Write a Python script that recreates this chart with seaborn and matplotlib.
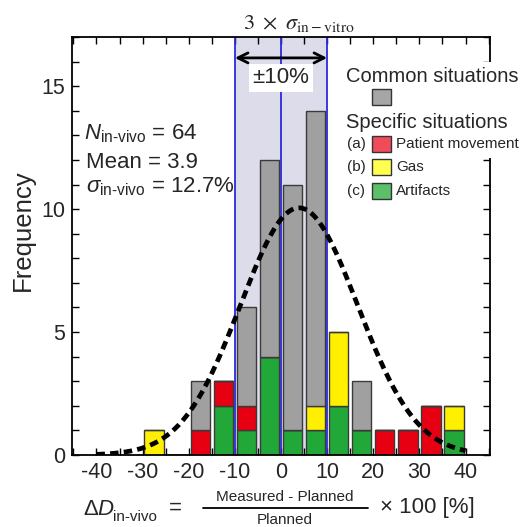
import numpy as np
import pandas as pd
import matplotlib
matplotlib.use("Agg")
import matplotlib.pyplot as plt
import seaborn as sns
from matplotlib.patches import Rectangle
from matplotlib.lines import Line2D
from matplotlib.ticker import MultipleLocator

# ---------------- data ----------------
bin_centers = [-27.5, -22.5, -17.5, -12.5, -7.5, -2.5, 2.5, 7.5, 12.5, 17.5, 22.5, 27.5, 32.5, 37.5]
artifacts = [0, 0, 0, 2, 1, 4, 1, 1, 2, 1, 0, 0, 0, 1]
patient_movement = [0, 0, 1, 1, 1, 0, 0, 0, 0, 0, 1, 1, 2, 0]
gas = [1, 0, 0, 0, 0, 0, 0, 1, 3, 0, 0, 0, 0, 1]
common = [0, 0, 2, 0, 4, 8, 10, 12, 0, 2, 0, 0, 0, 0]
bin_edges = list(range(-30, 45, 5))
n_invivo = 64
mean_invivo = 3.9
sd_invivo = 12.7
x_ticks = [-40, -30, -20, -10, 0, 10, 20, 30, 40]
y_ticks = [0, 5, 10, 15]

records = []
for name, vals in [("Common", common), ("Gas", gas),
                   ("Patient movement", patient_movement), ("Artifacts", artifacts)]:
    for c, v in zip(bin_centers, vals):
        records.append({"x": c, "count": v, "cat": name})
df = pd.DataFrame(records)

palette = {"Common": "#a0a0a0", "Gas": "#fff000",
           "Patient movement": "#e60012", "Artifacts": "#22a839"}

# ---------------- style ----------------
sns.set_style("ticks")
plt.rcParams["font.family"] = ["Liberation Sans", "DejaVu Sans"]
plt.rcParams["axes.unicode_minus"] = False
plt.rcParams["mathtext.fontset"] = "custom"
plt.rcParams["mathtext.rm"] = "Liberation Sans"
plt.rcParams["mathtext.it"] = "Liberation Sans:italic"
plt.rcParams["mathtext.bf"] = "Liberation Sans:bold"

W, H = 523, 527
fig = plt.figure(figsize=(W / 100, H / 100), dpi=100)
ax = fig.add_axes([72 / W, 1 - 455 / H, (490 - 72) / W, (455 - 37) / H])

def px(x, y):
    return (x / W, 1 - y / H)

# shaded +-10% band
ax.axvspan(-10, 10, color="#dcdcea", zorder=0.3, lw=0)
for xv in (-10, 0, 10):
    ax.axvline(xv, color="#2a2ae0", lw=1.3, zorder=0.6)

sns.histplot(data=df, x="x", weights="count", hue="cat",
             hue_order=["Common", "Gas", "Patient movement", "Artifacts"],
             palette=palette, multiple="stack", bins=bin_edges, shrink=0.84,
             edgecolor="#3a3a3a", linewidth=1.0, alpha=1, legend=False, ax=ax,
             zorder=1)

# Gaussian fit
xs = np.linspace(-40, 40, 400)
ys = n_invivo * 5 / (sd_invivo * np.sqrt(2 * np.pi)) * np.exp(-0.5 * ((xs - mean_invivo) / sd_invivo) ** 2)
ax.plot(xs, ys, color="black", lw=3.4, linestyle=(0, (1.8, 1.1)), zorder=5)

# arrow and +-10%
ax.annotate("", xy=(-10, 16.15), xytext=(10, 16.15),
            arrowprops=dict(arrowstyle="<->", lw=2, color="black",
                            mutation_scale=18, shrinkA=0, shrinkB=0), zorder=6)
ax.text(0, 15.35, "±10%", ha="center", va="center", fontsize=16, zorder=6,
        bbox=dict(facecolor="white", edgecolor="none", pad=2.5))

ax.set_xlim(-45.3, 45.3)
ax.set_ylim(0, 17)
ax.set_xticks(x_ticks)
ax.xaxis.set_minor_locator(MultipleLocator(5))
ax.set_yticks(y_ticks)
ax.yaxis.set_minor_locator(MultipleLocator(1))
ax.tick_params(which="both", direction="in", top=True, right=True,
               length=5, width=1, color="black")
ax.tick_params(which="major", labelsize=15.5, pad=5)
ax.set_xlabel("")
ax.set_ylabel("Frequency", fontsize=18.5)
ax.yaxis.set_label_coords(-0.088, 0.538)
for s in ax.spines.values():
    s.set_color("black")
    s.set_linewidth(1.3)

# title above
fig.text(*px(299, 23), r"$3\ \times\ \sigma_{\mathrm{in-vitro}}$", ha="center", va="center",
         fontsize=16, math_fontfamily="stix")

# statistics text
fig.text(*px(84, 139), r"$\mathit{N}_{\text{in-vivo}}$ = " + f"{n_invivo}", fontsize=16, va="baseline")
fig.text(*px(86, 168), f"Mean = {mean_invivo}", fontsize=16, va="baseline")
fig.text(*px(86, 192), r"$\sigma_{\text{in-vivo}}$ = " + f"{sd_invivo}%", fontsize=16, va="baseline")

# legend (figure-level, white background)
fig.add_artist(Rectangle(px(342, 158), (W - 342) / W, (158 - 62) / H,
                         transform=fig.transFigure, facecolor="white",
                         edgecolor="none", zorder=3))

def leg_patch(x0, y0, color):
    fig.add_artist(Rectangle(px(x0, y0 + 16), 19 / W, 16 / H, transform=fig.transFigure,
                             facecolor=color, edgecolor="#333333", lw=1, zorder=4))

fig.text(*px(346, 76), "Common situations", fontsize=14.5, va="center", zorder=4)
leg_patch(372, 89, "#a6a6a6")
fig.text(*px(346, 122), "Specific situations", fontsize=14.5, va="center", zorder=4)
for lab, name, color, yc in [("(a)", "Patient movement", "#ef4b5b", 144),
                             ("(b)", "Gas", "#ffff50", 167),
                             ("(c)", "Artifacts", "#5cbf6a", 191)]:
    fig.text(*px(347, yc), lab, fontsize=11, va="center", zorder=4)
    leg_patch(372, yc - 8, color)
    fig.text(*px(396, yc), name, fontsize=11, va="center", zorder=4)

# x label as formula
fig.text(*px(83, 515), r"$\Delta\mathit{D}$", fontsize=16, va="baseline")
fig.text(*px(113, 521), "in-vivo", fontsize=11, va="baseline")
fig.text(*px(175, 508), "=", fontsize=16, va="center", ha="center")
fig.text(*px(285, 497), "Measured - Planned", fontsize=11, va="center", ha="center")
fig.add_artist(Line2D([203 / W, 368 / W], [1 - 508 / H, 1 - 508 / H],
                      transform=fig.transFigure, color="black", lw=1.3))
fig.text(*px(285, 520), "Planned", fontsize=11, va="center", ha="center")
fig.text(*px(380, 508), "× 100 [%]", fontsize=16, va="center", ha="left")

fig.savefig("out.png", dpi=100)
